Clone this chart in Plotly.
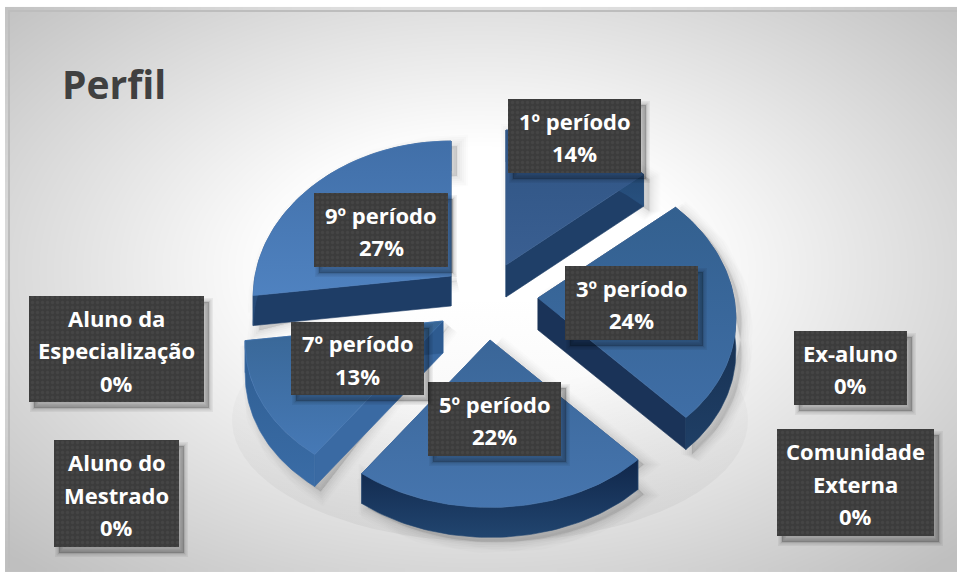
import numpy as np
import plotly.graph_objects as go

# ---- data
categories = ["1º período", "3º período", "5º período", "7º período", "9º período",
              "Aluno da Especialização", "Aluno do Mestrado", "Ex-aluno", "Comunidade Externa"]
values = [14, 24, 22, 13, 27, 0, 0, 0, 0]
label_lines = [["1º período"], ["3º período"], ["5º período"], ["7º período"], ["9º período"],
               ["Aluno da", "Especialização"], ["Aluno do", "Mestrado"], ["Ex-aluno"],
               ["Comunidade", "Externa"]]
title_text = "Perfil"

# ---- layout / style (pixel space of the hidden axes)
W, H = 957, 581
FRAME = (9, 11, 957, 568)
apex = [(506, 265), (538, 298), (490, 340), (443, 321), (451, 276)]
depth = [32, 32, 30, 32, 30]
top_cols = [("#2f5483", "#3a5f92"), ("#33608f", "#3f6ea6"), ("#3a6698", "#4675ae"),
            ("#386695", "#4679b6"), ("#416fa8", "#4f82c0")]
arc_cols = [("#1f3f68", "#28517f"), ("#10233f", "#1f3f66"), ("#10264a", "#21456f"),
            ("#2f5e92", "#3a6ca6"), ("#20406b", "#274c7a")]
cut_cols = [("#264a77", "#1f3f68"), ("#14294a", "#1a3358"), ("#1d3c66", "#1d3c66"),
            ("#3a6aa3", "#2e5b90"), ("#1e3d66", "#234672")]
boxes = [(508, 99, 641, 173), (565, 266, 698, 340), (428, 382, 561, 456),
         (291, 322, 424, 395), (314, 193, 448, 267), (29, 296, 204, 402),
         (54, 440, 179, 547), (794, 331, 907, 405), (777, 429, 934, 536)]
A, KX, B, KY_UP, KY_LOW = 196.0, 0.14, 155.0, 0.129, 0.08

fig = go.Figure()

# background
gx = np.linspace(FRAME[0], FRAME[2], 120)
gy = np.linspace(FRAME[1], FRAME[3], 70)
XX, YY = np.meshgrid(gx, gy)
rr = np.sqrt(((XX - 480) / 474) ** 2 + ((YY - 270) / 290) ** 2)
shade = 255 - 64 * np.clip((rr - 0.42) / 0.98, 0, 1)
fig.add_trace(go.Heatmap(x=gx, y=gy, z=shade, zmin=0, zmax=255, zsmooth="best", showscale=False,
                         hoverinfo="skip", colorscale=[[0, "#000000"], [1, "#ffffff"]]))
fig.add_trace(go.Scatter(x=[FRAME[0], FRAME[0], FRAME[2]], y=[FRAME[3], FRAME[1], FRAME[1]], mode="lines",
                         line=dict(color="#bdbdbd", width=2), hoverinfo="skip", showlegend=False))


def poly(x, y, **kw):
    fig.add_trace(go.Scatter(x=list(x) + [x[0]], y=list(y) + [y[0]], mode="lines", fill="toself",
                             hoverinfo="skip", showlegend=False, **kw))


def grad_poly(x, y, cols):
    poly(x, y, line=dict(width=0.6, color=cols[1]),
         fillgradient=dict(type="vertical", colorscale=[[0, cols[1]], [1, cols[0]]]))


def project(c, r, theta):
    u, v = r * np.sin(theta), r * np.cos(theta)
    ky = np.where(v >= 0, KY_UP, KY_LOW)
    return c[0] + A * u * (1 - KX * v), c[1] - B * v * (1 - ky * v)


# floor shade under the pie
t = np.linspace(0, 2 * np.pi, 90)
poly(490 + 258 * np.cos(t), 420 + 122 * np.sin(t), line=dict(width=0),
     fillgradient=dict(type="vertical", colorscale=[[0, "rgba(150,150,150,0.14)"], [1, "rgba(150,150,150,0)"]]))

shares = np.array(values[:5], dtype=float) / sum(values)
ends = np.cumsum(shares) * 2 * np.pi
starts = ends - shares * 2 * np.pi

for i in [0, 4, 1, 3, 2]:
    th = np.linspace(starts[i], ends[i], 60)
    ax, ay = project(apex[i], 1.0, th)
    px = np.r_[apex[i][0], ax]
    py = np.r_[apex[i][1], ay]
    d = depth[i]
    # soft shadow of the slice
    sx = np.r_[px, px[::-1][:-1]]
    sy = np.r_[py, py[::-1][:-1] + d]
    for w, op in [(22, 0.012), (18, 0.014), (14, 0.016), (10, 0.02), (6, 0.025), (2, 0.03)]:
        poly(sx + 6, sy + 5, line=dict(width=w, color=f"rgba(0,0,0,{op})"), fillcolor="rgba(0,0,0,0.02)")
    # cut faces
    for k, (ex, ey) in enumerate([(ax[0], ay[0]), (ax[-1], ay[-1])]):
        grad_poly([px[0], ex, ex, px[0]], [py[0], ey, ey + d, py[0] + d], (cut_cols[i][k], cut_cols[i][k]))
    # rounded outer face
    grad_poly(np.r_[ax, ax[::-1]], np.r_[ay, ay[::-1] + d], arc_cols[i])
    # top face
    grad_poly(px, py, top_cols[i])

annotations = [dict(x=60, y=103, xref="x", yref="y", xanchor="left", yanchor="bottom", yshift=-9,
                    text=f"<b>{title_text}</b>", showarrow=False,
                    font=dict(family="Open Sans", size=39, color="#404040"))]

for name, v, lines, (x0, y0, x1, y1) in zip(categories, values, label_lines, boxes):
    bx, by = [x0, x1, x1, x0], [y0, y0, y1, y1]
    for w, op in [(8, 0.05), (5, 0.07), (2, 0.09)]:
        poly([a + 5 for a in bx], [a + 6 for a in by], line=dict(width=w, color=f"rgba(0,0,0,{op})"),
             fillcolor="rgba(0,0,0,0.08)")
    poly(bx, by, line=dict(width=0, color="#3c3c3c"),
         fillpattern=dict(shape=".", bgcolor="#3c3c3c", fgcolor="#4e4e4e", size=5, solidity=0.35))
    rows = lines + [f"{v}%"]
    cy = (y0 + y1) / 2
    for k, row in enumerate(rows):
        annotations.append(dict(x=(x0 + x1) / 2, y=cy + 1 + (k - (len(rows) - 1) / 2) * 32.5,
                                xref="x", yref="y", xanchor="center", yanchor="middle", showarrow=False,
                                text=f"<b>{row}</b>", font=dict(family="Open Sans", size=22, color="#ffffff")))

fig.update_layout(width=W, height=H, margin=dict(l=0, r=0, t=0, b=0), autosize=False,
                  paper_bgcolor="#ffffff", plot_bgcolor="#ffffff", showlegend=False,
                  annotations=annotations,
                  xaxis=dict(range=[0, W], visible=False, fixedrange=True),
                  yaxis=dict(range=[H, 0], visible=False, fixedrange=True))
fig.write_html("out.html", config=dict(displayModeBar=False),
               post_script="document.body.style.margin='0';document.body.style.overflow='hidden';")
